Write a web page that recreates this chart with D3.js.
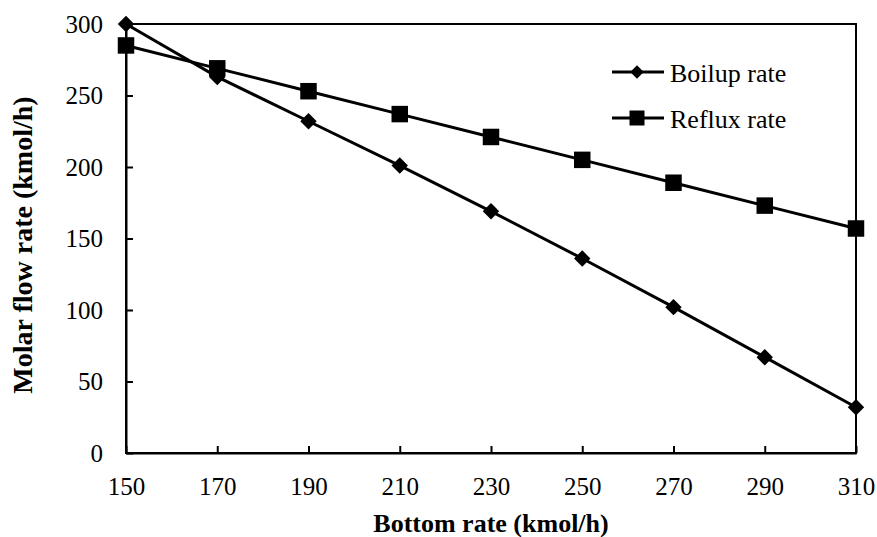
<!DOCTYPE html>
<html>
<head>
<meta charset="utf-8">
<script src="https://cdn.jsdelivr.net/npm/d3@7"></script>
</head>
<body style="margin:0;background:#fff">
<svg id="flowplot" width="877" height="537"></svg>
<script>
// Bottom rate (kmol/h)
const bottomRate = [150, 170, 190, 210, 230, 250, 270, 290, 310];
// Boilup and reflux molar flow rates (kmol/h)
const boilupRate = [300, 263, 232, 201, 169, 136, 102, 67, 32];
const refluxRate = [285, 269, 253, 237, 221, 205, 189, 173, 157];
const xTicks = [150, 170, 190, 210, 230, 250, 270, 290, 310];
const yTicks = [0, 50, 100, 150, 200, 250, 300];

const FONT = '"Liberation Serif"';
const svg = d3.select("#flowplot");
const margin = { left: 126, right: 21, top: 24, bottom: 84 };
const W = 877, H = 537;
const x = d3.scaleLinear().domain([150, 310]).range([margin.left, W - margin.right]);
const y = d3.scaleLinear().domain([0, 300]).range([H - margin.bottom, margin.top]);

const serifText = sel => sel.style("font-family", FONT, "important");

// plot frame
svg.append("rect")
  .attr("x", x(150)).attr("y", y(300))
  .attr("width", x(310) - x(150)).attr("height", y(0) - y(300))
  .attr("fill", "none").attr("stroke", "#000").attr("stroke-width", 2);

// axes with inward ticks
const xAxis = svg.append("g").attr("transform", `translate(0,${y(0)})`)
  .call(d3.axisBottom(x).tickValues(xTicks).tickSizeInner(-7).tickSizeOuter(0).tickPadding(24).tickFormat(d3.format("d")));
const yAxis = svg.append("g").attr("transform", `translate(${x(150)},0)`)
  .call(d3.axisLeft(y).tickValues(yTicks).tickSizeInner(-7).tickSizeOuter(0).tickPadding(23).tickFormat(d3.format("d")));
[xAxis, yAxis].forEach(g => {
  g.attr("font-family", null).attr("font-size", null);
  g.select(".domain").attr("stroke", "#000").attr("stroke-width", 2);
  g.selectAll(".tick line").attr("stroke", "#000").attr("stroke-width", 2);
  g.selectAll(".tick text").attr("fill", "#000").style("font-size", "25px").call(serifText);
});

// rotated-square diamond
const diamond = {
  draw(ctx, size) {
    const r = Math.sqrt(size / 2);
    ctx.moveTo(0, -r); ctx.lineTo(r, 0); ctx.lineTo(0, r); ctx.lineTo(-r, 0); ctx.closePath();
  }
};

const pts = v => bottomRate.map((b, i) => [b, v[i]]);
const line = d3.line().x(d => x(d[0])).y(d => y(d[1]));

const series = [
  { name: "Boilup rate", values: boilupRate, symbol: diamond, size: 135, legendSize: 90 },
  { name: "Reflux rate", values: refluxRate, symbol: d3.symbolSquare, size: 272, legendSize: 225 }
];

series.forEach(s => {
  svg.append("path").datum(pts(s.values))
    .attr("d", line).attr("fill", "none").attr("stroke", "#000").attr("stroke-width", 3);
});
series.forEach(s => {
  svg.append("g").selectAll("path").data(pts(s.values)).join("path")
    .attr("transform", d => `translate(${x(d[0])},${y(d[1])})`)
    .attr("d", d3.symbol().type(s.symbol).size(s.size))
    .attr("fill", "#000");
});

// legend
const legend = svg.append("g").attr("transform", "translate(612,72)");
series.forEach((s, i) => {
  const g = legend.append("g").attr("transform", `translate(0,${i * 46})`);
  g.append("line").attr("x1", 0).attr("x2", 52).attr("y1", 0).attr("y2", 0)
    .attr("stroke", "#000").attr("stroke-width", 3);
  g.append("path").attr("transform", "translate(25,0)")
    .attr("d", d3.symbol().type(s.symbol).size(s.legendSize))
    .attr("fill", "#000");
  g.append("text").attr("x", 58).attr("y", 9.5)
    .style("font-size", "26px").call(serifText).text(s.name);
});

// axis titles
svg.append("text").attr("x", x(230)).attr("y", 532)
  .attr("text-anchor", "middle")
  .style("font-weight", "bold").style("font-size", "26px").call(serifText)
  .text("Bottom rate (kmol/h)");
svg.append("text").attr("transform", "translate(32,245) rotate(-90)")
  .attr("text-anchor", "middle")
  .style("font-weight", "bold").style("font-size", "28px").call(serifText)
  .text("Molar flow rate (kmol/h)");
</script>
</body>
</html>
